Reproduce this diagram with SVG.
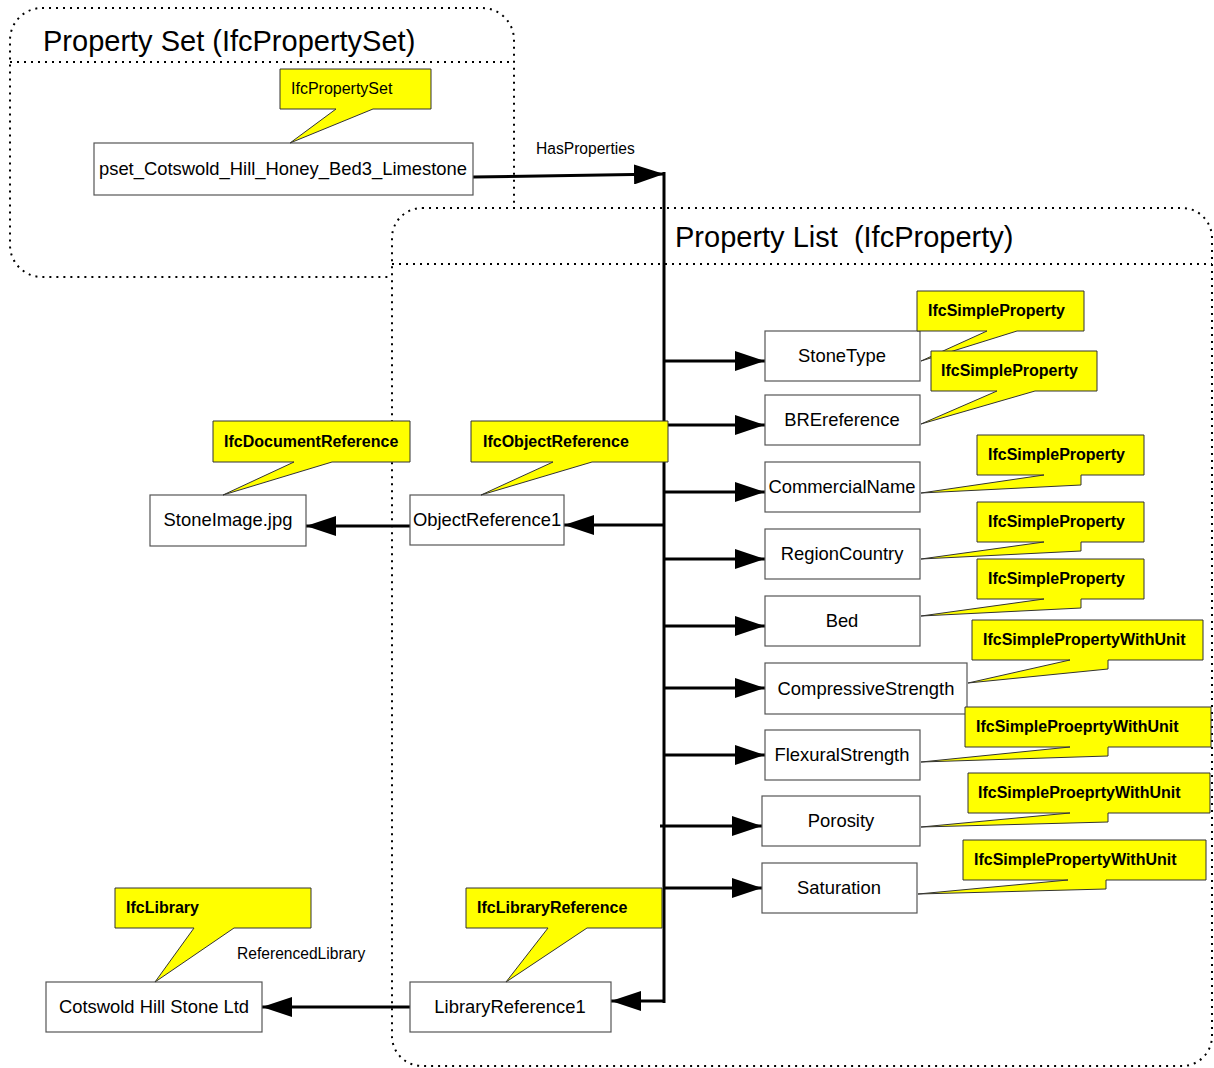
<svg xmlns="http://www.w3.org/2000/svg" width="1214" height="1068" viewBox="0 0 1214 1068">
<style>
.region{fill:none;stroke:#000;stroke-width:2;stroke-dasharray:2 5}
.regionw{fill:#fff;stroke:#000;stroke-width:2;stroke-dasharray:2 5}
.sep{stroke:#000;stroke-width:2;stroke-dasharray:2 5}
.title{font-family:"Liberation Sans",Arial,sans-serif;font-size:29px;fill:#000;white-space:pre}
.node rect{fill:#fff;stroke:#555;stroke-width:1.2}
.node text{font-family:"Liberation Sans",Arial,sans-serif;font-size:18.4px;fill:#000;text-anchor:middle}
.call polygon{fill:#ffff00;stroke:#333;stroke-width:1}
.call text{font-family:"Liberation Sans",Arial,sans-serif;font-size:16px;font-weight:bold;fill:#000}
.call text.n{font-weight:normal}
.lbl{font-family:"Liberation Sans",Arial,sans-serif;font-size:15.6px;fill:#000}
.conn{fill:none;stroke:#000;stroke-width:3}
</style>
<defs>
<marker id="ah" markerUnits="userSpaceOnUse" markerWidth="30" markerHeight="20" refX="30" refY="10" orient="auto">
<path d="M0,0 L30,10 L0,20 z" fill="#000"/>
</marker>
</defs>

<g id="region-propertyset">
<rect class="region" x="10" y="8" width="504" height="269" rx="32" ry="32"/>
<line class="sep" x1="10" y1="62" x2="514" y2="62"/>
<text class="title" x="43" y="51">Property Set (IfcPropertySet)</text>
</g>
<g id="region-propertylist">
<rect class="regionw" x="392" y="208" width="820" height="858" rx="30" ry="30"/>
<line class="sep" x1="392" y1="264" x2="1212" y2="264"/>
<text class="title" x="675" y="247" xml:space="preserve">Property List  (IfcProperty)</text>
</g>

<g id="connectors">
<line class="conn" x1="473" y1="177" x2="664" y2="174" marker-end="url(#ah)"/>
<line class="conn" x1="664" y1="172" x2="664" y2="1003"/>
<line class="conn" x1="664" y1="361" x2="765" y2="361" marker-end="url(#ah)"/>
<line class="conn" x1="664" y1="425" x2="765" y2="425" marker-end="url(#ah)"/>
<line class="conn" x1="664" y1="492" x2="765" y2="492" marker-end="url(#ah)"/>
<line class="conn" x1="664" y1="559" x2="765" y2="559" marker-end="url(#ah)"/>
<line class="conn" x1="664" y1="626" x2="765" y2="626" marker-end="url(#ah)"/>
<line class="conn" x1="664" y1="688" x2="765" y2="688" marker-end="url(#ah)"/>
<line class="conn" x1="664" y1="755" x2="765" y2="755" marker-end="url(#ah)"/>
<line class="conn" x1="660" y1="826" x2="762" y2="826" marker-end="url(#ah)"/>
<line class="conn" x1="664" y1="888" x2="762" y2="888" marker-end="url(#ah)"/>
<line class="conn" x1="664" y1="525" x2="564" y2="525" marker-end="url(#ah)"/>
<line class="conn" x1="410" y1="526" x2="306" y2="526" marker-end="url(#ah)"/>
<line class="conn" x1="664" y1="1001" x2="611" y2="1001" marker-end="url(#ah)"/>
<line class="conn" x1="410" y1="1007" x2="262" y2="1007" marker-end="url(#ah)"/>
<text class="lbl" x="536" y="154">HasProperties</text>
<text class="lbl" x="237" y="959">ReferencedLibrary</text>
</g>

<g id="pset" class="node">
<rect x="94" y="143" width="379" height="52"/>
<text x="283" y="175">pset_Cotswold_Hill_Honey_Bed3_Limestone</text>
</g>
<g id="call-pset" class="call">
<polygon points="280,69 431,69 431,109 373,109 290,143 336,109 280,109"/>
<text class="n" x="291" y="94">IfcPropertySet</text>
</g>

<g id="stonetype" class="node">
<rect x="765" y="331" width="155" height="50"/>
<text x="842" y="362">StoneType</text>
</g>
<g id="breref" class="node">
<rect x="765" y="395" width="155" height="50"/>
<text x="842" y="426">BREreference</text>
</g>
<g id="commercialname" class="node">
<rect x="765" y="462" width="155" height="50"/>
<text x="842" y="493">CommercialName</text>
</g>
<g id="regioncountry" class="node">
<rect x="765" y="529" width="155" height="50"/>
<text x="842" y="560">RegionCountry</text>
</g>
<g id="bed" class="node">
<rect x="765" y="596" width="155" height="50"/>
<text x="842" y="627">Bed</text>
</g>
<g id="compressive" class="node">
<rect x="765" y="663" width="202" height="51"/>
<text x="866" y="695">CompressiveStrength</text>
</g>
<g id="flexural" class="node">
<rect x="765" y="730" width="155" height="50"/>
<text x="842" y="761">FlexuralStrength</text>
</g>
<g id="porosity" class="node">
<rect x="762" y="796" width="158" height="50"/>
<text x="841" y="827">Porosity</text>
</g>
<g id="saturation" class="node">
<rect x="762" y="863" width="155" height="50"/>
<text x="839" y="894">Saturation</text>
</g>

<g id="call-stonetype" class="call">
<polygon points="917,291 1084,291 1084,331 1017,331 921,361 987,331 917,331"/>
<text x="928" y="316">IfcSimpleProperty</text>
</g>
<g id="call-breref" class="call">
<polygon points="931,351 1097,351 1097,391 1035,391 921,424 997,391 931,391"/>
<text x="941" y="376">IfcSimpleProperty</text>
</g>
<g id="call-commercialname" class="call">
<polygon points="977,435 1144,435 1144,475 1081,475 1081,485 921,493 1044,475 977,475"/>
<text x="988" y="460">IfcSimpleProperty</text>
</g>
<g id="call-regioncountry" class="call">
<polygon points="977,502 1144,502 1144,542 1081,542 1081,551 921,559 1044,542 977,542"/>
<text x="988" y="527">IfcSimpleProperty</text>
</g>
<g id="call-bed" class="call">
<polygon points="977,559 1144,559 1144,599 1081,599 1081,608 921,616 1044,599 977,599"/>
<text x="988" y="584">IfcSimpleProperty</text>
</g>
<g id="call-compressive" class="call">
<polygon points="972,620 1203,620 1203,660 1108,660 1108,669 968,683 1070,660 972,660"/>
<text x="983" y="645">IfcSimplePropertyWithUnit</text>
</g>
<g id="call-flexural" class="call">
<polygon points="965,707 1211,707 1211,747 1108,747 1108,756 921,762 1070,747 965,747"/>
<text x="976" y="732">IfcSimpleProeprtyWithUnit</text>
</g>
<g id="call-porosity" class="call">
<polygon points="968,773 1210,773 1210,813 1108,813 1108,822 921,827 1070,813 968,813"/>
<text x="978" y="798">IfcSimpleProeprtyWithUnit</text>
</g>
<g id="call-saturation" class="call">
<polygon points="963,840 1206,840 1206,880 1106,880 1106,889 918,894 1068,880 963,880"/>
<text x="974" y="865">IfcSimplePropertyWithUnit</text>
</g>

<g id="objectref" class="node">
<rect x="410" y="495" width="154" height="50"/>
<text x="487" y="526">ObjectReference1</text>
</g>
<g id="call-objectref" class="call">
<polygon points="471,421 668,421 668,462 592,462 481,495 553,462 471,462"/>
<text x="483" y="447">IfcObjectReference</text>
</g>
<g id="stoneimage" class="node">
<rect x="150" y="495" width="156" height="51"/>
<text x="228" y="526">StoneImage.jpg</text>
</g>
<g id="call-docref" class="call">
<polygon points="213,421 410,421 410,462 332,462 223,495 294,462 213,462"/>
<text x="224" y="447">IfcDocumentReference</text>
</g>

<g id="libraryref" class="node">
<rect x="410" y="982" width="201" height="50"/>
<text x="510" y="1013">LibraryReference1</text>
</g>
<g id="call-libraryref" class="call">
<polygon points="466,888 662,888 662,928 587,928 506,982 548,928 466,928"/>
<text x="477" y="913">IfcLibraryReference</text>
</g>
<g id="cotswold" class="node">
<rect x="46" y="982" width="216" height="50"/>
<text x="154" y="1013">Cotswold Hill Stone Ltd</text>
</g>
<g id="call-library" class="call">
<polygon points="115,888 311,888 311,928 234,928 155,982 194,928 115,928"/>
<text x="126" y="913">IfcLibrary</text>
</g>
</svg>
